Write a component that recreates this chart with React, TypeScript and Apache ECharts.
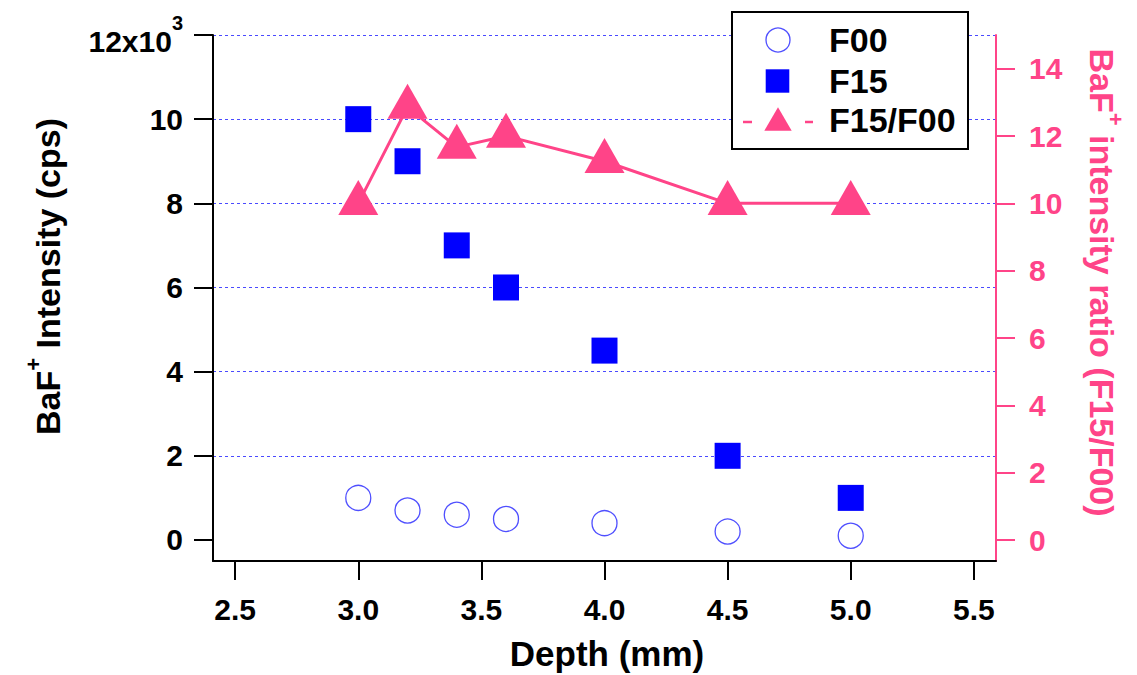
import React, { useEffect, useRef } from 'react';
import * as echarts from 'echarts';

// ---- data ----
const depth = [3.0, 3.2, 3.4, 3.6, 4.0, 4.5, 5.0];
const f00 = [1000, 700, 600, 500, 400, 200, 100];
const f15 = [10000, 9000, 7000, 6000, 4500, 2000, 1000];
const ratio = [10, 12.86, 11.67, 12, 11.25, 10, 10];
const xTicks = [2.5, 3.0, 3.5, 4.0, 4.5, 5.0, 5.5];
const leftTicks = [0, 2000, 4000, 6000, 8000, 10000, 12000];
const rightTicks = [0, 2, 4, 6, 8, 10, 12, 14];
const seriesNames = ['F00', 'F15', 'F15/F00'];

const FONT = "'Liberation Sans', Arial, Helvetica, sans-serif";
const PINK = '#ff4488';
const BLUE = '#0000ff';
const CIRCLE_BLUE = '#4f4fff';
const GRID_BLUE = '#4a4aff';
const TICK_FS = 30;

export default function App() {
  const ref = useRef<HTMLDivElement>(null);

  useEffect(() => {
    const chart = echarts.init(ref.current as HTMLDivElement, null, { renderer: 'svg' });

    const titleRich = (color: string) => ({
      m: { fontFamily: FONT, fontSize: 34, fontWeight: 'bold', fill: color, lineHeight: 40, height: 34, verticalAlign: 'bottom' },
      s: { fontFamily: FONT, fontSize: 22, fontWeight: 'bold', fill: color, height: 18, verticalAlign: 'top' },
    });

    const option: any = {
      animation: false,
      textStyle: { fontFamily: FONT },
      grid: { left: 213, right: 141, top: 35, bottom: 114, containLabel: false },
      xAxis: {
        type: 'value',
        min: 2.41,
        max: 5.59,
        minInterval: 0.5,
        maxInterval: 0.5,
        z: 5,
        axisLine: { show: true, onZero: false, lineStyle: { color: '#000', width: 2 } },
        axisTick: { show: true, inside: false, length: 19, lineStyle: { color: '#000', width: 2 }, customValues: xTicks },
        axisLabel: {
          customValues: xTicks,
          formatter: (v: number) => v.toFixed(1),
          fontSize: TICK_FS, fontWeight: 'bold', color: '#000', fontFamily: FONT, margin: 33,
        },
        splitLine: { show: false },
      },
      yAxis: [
        {
          type: 'value',
          position: 'left',
          min: -500,
          max: 12000,
          minInterval: 2000,
          maxInterval: 2000,
          axisLine: { show: true, onZero: false, lineStyle: { color: '#000', width: 2 } },
          axisTick: { show: true, inside: false, length: 19, lineStyle: { color: '#000', width: 2 }, customValues: leftTicks },
          axisLabel: {
            customValues: leftTicks,
            margin: 30,
            fontSize: TICK_FS, fontWeight: 'bold', color: '#000', fontFamily: FONT,
            formatter: (v: number) => (v === 12000 ? '{m|12x10}{s|3}' : '{n|' + String(v / 1000) + '}'),
            rich: {
              n: { fontFamily: FONT, fontSize: TICK_FS, fontWeight: 'bold', color: '#000' },
              m: { fontFamily: FONT, fontSize: TICK_FS, fontWeight: 'bold', color: '#000', lineHeight: 42, height: 30, verticalAlign: 'bottom' },
              s: { fontFamily: FONT, fontSize: 20, fontWeight: 'bold', color: '#000', height: 18, verticalAlign: 'top' },
            },
          },
          splitLine: { show: true, showMinLine: false, lineStyle: { color: GRID_BLUE, width: 1, opacity: 1, type: [3, 3] } },
        },
        {
          type: 'value',
          position: 'right',
          min: -0.62,
          max: 15,
          minInterval: 2,
          maxInterval: 2,
          axisLine: { show: true, onZero: false, lineStyle: { color: PINK, width: 2 } },
          axisTick: { show: true, inside: false, length: 19, lineStyle: { color: PINK, width: 2 }, customValues: rightTicks },
          axisLabel: {
            customValues: rightTicks,
            margin: 33,
            fontSize: TICK_FS, fontWeight: 'bold', color: PINK, fontFamily: FONT,
          },
          splitLine: { show: false },
        },
      ],
      series: [
        {
          name: seriesNames[0],
          type: 'scatter',
          xAxisIndex: 0,
          yAxisIndex: 0,
          data: depth.map((d, i) => [d, f00[i]]),
          symbol: 'circle',
          symbolSize: 25,
          itemStyle: { color: 'rgba(0,0,0,0)', borderColor: CIRCLE_BLUE, borderWidth: 1.3, opacity: 1 },
          emphasis: { disabled: true },
          z: 3,
        },
        {
          name: seriesNames[1],
          type: 'scatter',
          xAxisIndex: 0,
          yAxisIndex: 0,
          data: depth.map((d, i) => [d, f15[i]]),
          symbol: 'rect',
          symbolSize: 26,
          itemStyle: { color: BLUE, opacity: 1 },
          emphasis: { disabled: true },
          z: 3,
        },
        {
          name: seriesNames[2],
          type: 'line',
          xAxisIndex: 0,
          yAxisIndex: 1,
          data: depth.map((d, i) => [d, ratio[i]]),
          symbol: 'triangle',
          symbolSize: [40, 35],
          symbolOffset: [0, -5.8],
          showSymbol: true,
          lineStyle: { color: PINK, width: 3 },
          itemStyle: { color: PINK, opacity: 1 },
          emphasis: { disabled: true },
          z: 4,
        },
      ],
      graphic: [
        // axis titles
        {
          type: 'text', x: 44.5, y: 276.5, rotation: Math.PI / 2, z: 10,
          style: { text: '{m|BaF}{s|+}{m| Intensity (cps)}', align: 'center', verticalAlign: 'middle', rich: titleRich('#000') },
        },
        {
          type: 'text', x: 1104.5, y: 282.5, rotation: -Math.PI / 2, z: 10,
          style: { text: '{m|BaF}{s|+}{m| intensity ratio (F15/F00)}', align: 'center', verticalAlign: 'middle', rich: titleRich(PINK) },
        },
        {
          type: 'text', x: 607, y: 653, z: 10,
          style: { text: 'Depth (mm)', align: 'center', verticalAlign: 'middle', fontFamily: FONT, fontSize: 35, fontWeight: 'bold', fill: '#000' },
        },
        // legend
        {
          type: 'rect', z: 20,
          shape: { x: 732, y: 12, width: 236, height: 137 },
          style: { fill: '#fff', stroke: '#000', lineWidth: 2 },
        },
        {
          type: 'circle', z: 21,
          shape: { cx: 778, cy: 40, r: 12 },
          style: { fill: 'none', stroke: CIRCLE_BLUE, lineWidth: 1.3 },
        },
        {
          type: 'rect', z: 21,
          shape: { x: 765.7, y: 69.3, width: 23.6, height: 23.4 },
          style: { fill: BLUE },
        },
        {
          type: 'line', z: 21,
          shape: { x1: 743, y1: 122, x2: 752, y2: 122 },
          style: { stroke: PINK, lineWidth: 2.5 },
        },
        {
          type: 'line', z: 21,
          shape: { x1: 805, y1: 122, x2: 813, y2: 122 },
          style: { stroke: PINK, lineWidth: 2.5 },
        },
        {
          type: 'polygon', z: 21,
          shape: { points: [[778, 107.3], [764.3, 130.7], [791.7, 130.7]] },
          style: { fill: PINK },
        },
        {
          type: 'text', x: 829, y: 39.5, z: 21,
          style: { text: seriesNames[0], align: 'left', verticalAlign: 'middle', fontFamily: FONT, fontSize: 34, fontWeight: 'bold', fill: '#000' },
        },
        {
          type: 'text', x: 829, y: 81, z: 21,
          style: { text: seriesNames[1], align: 'left', verticalAlign: 'middle', fontFamily: FONT, fontSize: 34, fontWeight: 'bold', fill: '#000' },
        },
        {
          type: 'text', x: 829, y: 120, z: 21,
          style: { text: seriesNames[2], align: 'left', verticalAlign: 'middle', fontFamily: FONT, fontSize: 34, fontWeight: 'bold', fill: '#000' },
        },
      ],
    };

    chart.setOption(option);
    return () => {
      chart.dispose();
    };
  }, []);

  return (
    <div
      ref={ref}
      style={{ position: 'absolute', left: 0, top: 0, width: 1137, height: 675, background: '#fff' }}
    />
  );
}
